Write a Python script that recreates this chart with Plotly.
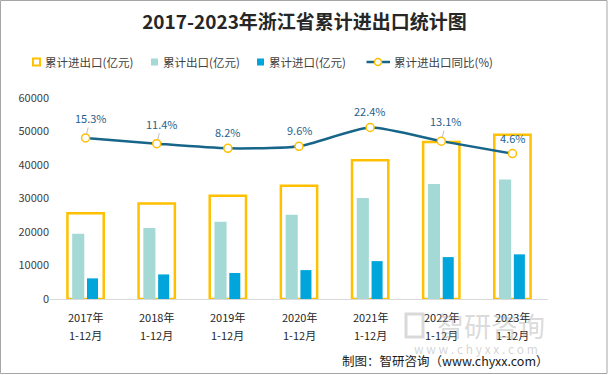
import plotly.graph_objects as go

# ---- data ----
years = ["2017年", "2018年", "2019年", "2020年", "2021年", "2022年", "2023年"]
periods = ["1-12月", "1-12月", "1-12月", "1-12月", "1-12月", "1-12月", "1-12月"]
total = [25604, 28519, 30832, 33808, 41429, 46837, 49000]
export = [19446, 21182, 23070, 25180, 30121, 34325, 35673]
imports = [6158, 7337, 7762, 8628, 11308, 12512, 13327]
growth = [15.3, 11.4, 8.2, 9.6, 22.4, 13.1, 4.6]
growth_labels = ["15.3%", "11.4%", "8.2%", "9.6%", "22.4%", "13.1%", "4.6%"]
y_ticks = [0, 10000, 20000, 30000, 40000, 50000, 60000]
series_names = ["累计进出口(亿元)", "累计出口(亿元)", "累计进口(亿元)", "累计进出口同比(%)"]

W, H = 609, 375
ML, MR, MT, MB = 50, 61, 98, 76
PW, PH = W - ML - MR, H - MT - MB


def px(x):
    return (x - ML) / PW


def py(y):
    return (H - MB - y) / PH


ORANGE = "#FFC000"
TEAL = "#A4D9D6"
BLUE = "#00A5DB"
LINE = "#17668A"
FONT = "Noto Sans CJK SC"

fig = go.Figure()
fig.add_trace(go.Bar(
    x=years, y=total, name=series_names[0], width=0.51, offset=-0.255, showlegend=False,
    marker=dict(color="rgba(0,0,0,0)", line=dict(color=ORANGE, width=2.5)),
))
fig.add_trace(go.Bar(
    x=years, y=export, name=series_names[1], width=0.17, offset=-0.188, showlegend=False,
    marker=dict(color=TEAL, line=dict(width=0)),
))
fig.add_trace(go.Bar(
    x=years, y=imports, name=series_names[2], width=0.155, offset=0.02, showlegend=False,
    marker=dict(color=BLUE, line=dict(width=0)),
))
fig.add_trace(go.Scatter(
    x=years, y=growth, name=series_names[3], yaxis="y2", showlegend=False,
    mode="lines+markers", line=dict(color=LINE, width=2.5, shape="spline", smoothing=0.6),
    marker=dict(symbol="circle", size=8, color="white", line=dict(color=ORANGE, width=1.5)),
))

ann = []
leader = {"15.3%", "11.4%", "13.1%"}
for yr, g, lab in zip(years, growth, growth_labels):
    if lab in leader:
        ann.append(dict(x=yr, y=g, xref="x", yref="y2", text=lab, showarrow=True,
                        arrowhead=0, arrowwidth=1, arrowcolor="#BFBFBF", ax=5, ay=-20,
                        standoff=4, font=dict(family=FONT, size=11, color="#1F5F8B")))
    else:
        ann.append(dict(x=yr, y=g, xref="x", yref="y2", text=lab, showarrow=False,
                        yshift=16, font=dict(family=FONT, size=11, color="#1F5F8B")))

# x category labels (two lines)
for yr, p in zip(years, periods):
    ann.append(dict(x=yr, y=py(317), xref="x", yref="paper", text=yr, showarrow=False,
                    xanchor="center", yanchor="middle", font=dict(family=FONT, size=11, color="#262626")))
    ann.append(dict(x=yr, y=py(335), xref="x", yref="paper", text=p, showarrow=False,
                    xanchor="center", yanchor="middle", font=dict(family=FONT, size=11, color="#262626")))

# custom legend
shapes = []
leg_y = 62
leg_txt = [43, 161, 267, 392]
shapes.append(dict(type="rect", xref="paper", yref="paper", x0=px(33), x1=px(40), y0=py(65.5), y1=py(58.5),
                   line=dict(color=ORANGE, width=2), fillcolor="white"))
shapes.append(dict(type="rect", xref="paper", yref="paper", x0=px(151), x1=px(158), y0=py(65.5), y1=py(58.5),
                   line=dict(width=0), fillcolor=TEAL))
shapes.append(dict(type="rect", xref="paper", yref="paper", x0=px(257), x1=px(264), y0=py(65.5), y1=py(58.5),
                   line=dict(width=0), fillcolor=BLUE))
shapes.append(dict(type="line", xref="paper", yref="paper", x0=px(366.5), x1=px(390), y0=py(leg_y), y1=py(leg_y),
                   line=dict(color=LINE, width=2.5)))
shapes.append(dict(type="circle", xref="paper", yref="paper", x0=px(374.5), x1=px(381.5), y0=py(65.5), y1=py(58.5),
                   line=dict(color=ORANGE, width=1.5), fillcolor="white"))
for name, tx in zip(series_names, leg_txt):
    ann.append(dict(x=px(tx), y=py(leg_y), xref="paper", yref="paper", xanchor="left", yanchor="middle",
                    text=name, showarrow=False, font=dict(family=FONT, size=11.5, color="#404040")))

# watermark
ann.append(dict(x=px(491), y=py(325), xref="paper", yref="paper", xanchor="center", yanchor="middle",
                text="智研咨询", showarrow=False,
                font=dict(family=FONT, size=27, color="rgba(160,160,160,0.4)")))
ann.append(dict(x=px(476), y=py(348), xref="paper", yref="paper", xanchor="center", yanchor="middle",
                text="w w w . c h y x x . c o m", showarrow=False,
                font=dict(family=FONT, size=12, color="rgba(160,160,160,0.45)")))
shapes.append(dict(type="rect", xref="paper", yref="paper", x0=px(406), x1=px(423), y0=py(337), y1=py(314),
                   line=dict(color="rgba(160,160,160,0.4)", width=3), fillcolor="rgba(0,0,0,0)"))
# footer
ann.append(dict(x=px(551), y=py(360), xref="paper", yref="paper", xanchor="right", yanchor="middle",
                text="制图：智研咨询（www.chyxx.com）", showarrow=False,
                font=dict(family=FONT, size=12.5, color="#1a1a1a")))

# outer border
shapes.append(dict(type="rect", xref="paper", yref="paper", x0=px(0.5), x1=px(607), y0=py(373.5), y1=py(0.5),
                   line=dict(color="#A6A6A6", width=1), fillcolor="rgba(0,0,0,0)"))

fig.update_layout(
    width=W, height=H, autosize=False,
    margin=dict(l=ML, r=MR, t=MT, b=MB),
    paper_bgcolor="white", plot_bgcolor="white",
    barmode="overlay", showlegend=False,
    title=dict(text="<b>2017-2023年浙江省累计进出口统计图</b>", x=0.5, xanchor="center",
               y=1 - 22 / H, yanchor="middle", font=dict(family=FONT, size=19, color="#262626")),
    font=dict(family=FONT, size=11, color="#404040"),
    xaxis=dict(type="category", showticklabels=False, showgrid=False, zeroline=False,
               showline=True, linecolor="#D9D9D9", linewidth=1, ticks=""),
    yaxis=dict(range=[0, 60000], tickvals=y_ticks, ticktext=[str(v) for v in y_ticks],
               showgrid=False, zeroline=False, showline=False, ticks="",
               tickfont=dict(family=FONT, size=11, color="#404040")),
    yaxis2=dict(overlaying="y", side="right", range=[-94.5, 42.5], visible=False,
                showgrid=False, zeroline=False),
    annotations=ann, shapes=shapes,
)

fig.write_html("out.html", post_script="document.body.style.margin='0';",
               config={"displayModeBar": False})
